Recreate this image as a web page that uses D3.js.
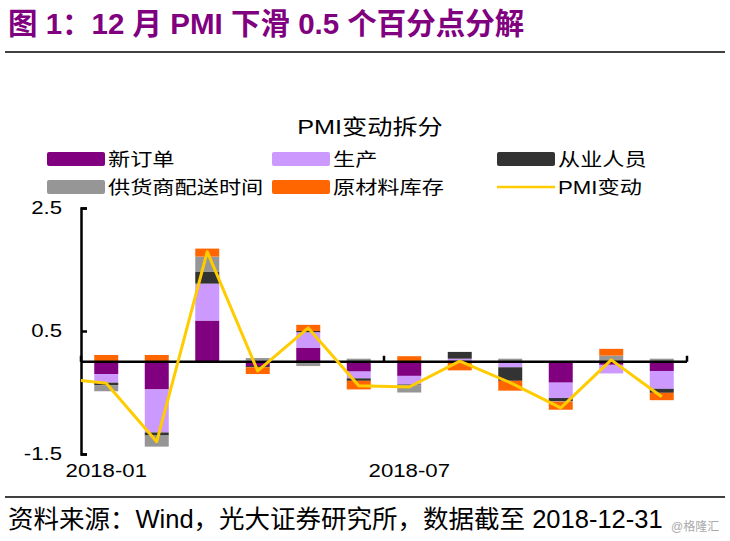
<!DOCTYPE html>
<html>
<head>
<meta charset="utf-8">
<script src="https://cdn.jsdelivr.net/npm/d3@7"></script>
<style>
  html, body { margin: 0; padding: 0; background: #fff; }
  svg { display: block; }
</style>
</head>
<body>
<svg id="chart" width="730" height="541"></svg>
<script>
// ---------------- data ----------------
const categories = ["2018-01","2018-02","2018-03","2018-04","2018-05","2018-06",
                    "2018-07","2018-08","2018-09","2018-10","2018-11","2018-12"];
const seriesNames = ["新订单","生产","从业人员","供货商配送时间","原材料库存"];
const newOrders  = [-0.20, -0.45, 0.67, -0.07, 0.23, -0.16, -0.23, 0.01, 0.00, -0.34, -0.05, -0.15];
const production = [-0.14, -0.70, 0.60,  0.02, 0.25, -0.11, -0.14, 0.04, -0.09, -0.25, -0.14, -0.29];
const employment = [-0.04, -0.05, 0.19, -0.02, 0.02, -0.04, -0.01, 0.11, -0.22, -0.05, 0.02, -0.065];
const delivery   = [-0.10, -0.18, 0.25,  0.04, -0.07, 0.05, -0.12, 0.00, 0.05, -0.01, 0.08, 0.05];
const inventory  = [ 0.11,  0.11, 0.13, -0.11, 0.10, -0.14, 0.09, -0.14, -0.16, -0.13, 0.11, -0.12];
const lineName = "PMI变动";
const pmiPrevMonth = -0.26;   // 2017-12 value (only its segment toward Jan is visible)
const pmiChange  = [-0.35, -1.30, 1.79, -0.15, 0.55, -0.39, -0.41, 0.01, -0.34, -0.75, 0.03, -0.57];
const yTicks = [2.5, 0.5, -1.5];
const xTickLabels = ["2018-01", "2018-07"];

const colors = ["#800080", "#CC99FF", "#333333", "#969696", "#FF6600"];
const lineColor = "#FFCC00";

// ---------------- setup ----------------
const svg = d3.select("#chart");
const FONT = "'Liberation Sans', Arial, 'Noto Sans CJK SC', sans-serif";
const SX = 1.2; // horizontal stretch of chart text

const plotLeft = 81, plotRight = 687, plotTop = 208, plotBottom = 454;

const x = d3.scaleBand().domain(categories).range([plotLeft, plotRight])
  .paddingInner(0.525).paddingOuter(0.2625);
const y = d3.scaleLinear().domain([-1.5, 2.5]).range([plotBottom, plotTop]);

const table = categories.map((c, i) => ({
  cat: c,
  [seriesNames[0]]: newOrders[i],
  [seriesNames[1]]: production[i],
  [seriesNames[2]]: employment[i],
  [seriesNames[3]]: delivery[i],
  [seriesNames[4]]: inventory[i]
}));
const stacked = d3.stack().keys(seriesNames).offset(d3.stackOffsetDiverging)(table);

// ---------------- page title & rules ----------------
svg.append("text")
  .attr("x", 8).attr("y", 34)
  .attr("font-family", FONT)
  .attr("font-weight", "bold").attr("font-size", 29.5).attr("fill", "#800080")
  .text("图 1：12 月 PMI 下滑 0.5 个百分点分解");

svg.append("line").attr("x1", 5).attr("x2", 725).attr("y1", 52).attr("y2", 52)
  .attr("stroke", "#000").attr("stroke-width", 1.5);
svg.append("line").attr("x1", 5).attr("x2", 725).attr("y1", 497).attr("y2", 497)
  .attr("stroke", "#000").attr("stroke-width", 1.5);

svg.append("text")
  .attr("x", 8).attr("y", 528)
  .attr("font-family", FONT).attr("font-size", 25.5).attr("fill", "#000")
  .text("资料来源：Wind，光大证券研究所，数据截至 2018-12-31");
svg.append("text")
  .attr("x", 671).attr("y", 531)
  .attr("font-family", FONT).attr("font-size", 12).attr("fill", "#aaaaaa")
  .text("@格隆汇");

// helper for horizontally stretched text
function sText(parent, tx, ty, str, size, anchor) {
  return parent.append("text")
    .attr("transform", `translate(${tx},${ty}) scale(${SX},1)`)
    .attr("font-family", FONT).attr("font-size", size)
    .attr("text-anchor", anchor || "start").attr("fill", "#000")
    .text(str);
}

// ---------------- chart title & legend ----------------
sText(svg, 370, 134, "PMI变动拆分", 21, "middle");

const legendItems = seriesNames.map((n, i) => ({ name: n, color: colors[i], type: "rect" }));
legendItems.push({ name: lineName, color: lineColor, type: "line" });
const colX = [47, 272, 497];
const rowY = [159, 187];
legendItems.forEach((it, i) => {
  const cx = colX[i % 3], cy = rowY[Math.floor(i / 3)];
  if (it.type === "rect") {
    svg.append("rect").attr("x", cx).attr("y", cy - 7).attr("width", 58).attr("height", 14)
      .attr("rx", 2).attr("fill", it.color);
  } else {
    svg.append("line").attr("x1", cx).attr("x2", cx + 58).attr("y1", cy).attr("y2", cy)
      .attr("stroke", it.color).attr("stroke-width", 2.5);
  }
  sText(svg, cx + 61, cy + 6.5, it.name, 18.5);
});

// ---------------- bars ----------------
const gBars = svg.append("g");
stacked.forEach((s, si) => {
  gBars.selectAll(null).data(s).join("rect")
    .attr("x", d => x(d.data.cat))
    .attr("width", x.bandwidth())
    .attr("y", d => y(d[1]))
    .attr("height", d => Math.max(0, y(d[0]) - y(d[1])))
    .attr("fill", colors[si]);
});

// ---------------- axes ----------------
const yAxis = svg.append("g").attr("transform", `translate(${plotLeft},0)`)
  .call(d3.axisLeft(y).tickValues(yTicks).tickSizeInner(-6).tickSizeOuter(-6)
    .tickPadding(19).tickFormat(d => d.toFixed(1)));
yAxis.selectAll("path, line").attr("stroke", "#000").attr("stroke-width", 2.5);
yAxis.selectAll("text")
  .attr("x", -19 / SX).attr("transform", `scale(${SX},1)`)
  .attr("font-family", FONT).attr("font-size", 18.5).attr("fill", "#000");

// zero line with category ticks every 6 months
const y0 = y(0);
svg.append("line").attr("x1", plotLeft).attr("x2", plotRight).attr("y1", y0).attr("y2", y0)
  .attr("stroke", "#000").attr("stroke-width", 2.5);
const step = x.step();
[0, 6, 12].forEach(k => {
  const tx = plotLeft + k * step;
  svg.append("line").attr("x1", tx).attr("x2", tx).attr("y1", y0).attr("y2", y0 - 6)
    .attr("stroke", "#000").attr("stroke-width", 2.5);
});

const xAxis = svg.append("g").attr("transform", `translate(0,${plotBottom})`)
  .call(d3.axisBottom(x).tickValues(xTickLabels).tickSize(0).tickPadding(10));
xAxis.select(".domain").remove();
xAxis.selectAll("text")
  .attr("transform", `scale(${SX},1)`)
  .attr("font-family", FONT).attr("font-size", 18.5).attr("fill", "#000");

// ---------------- line ----------------
svg.append("clipPath").attr("id", "plotClip").append("rect")
  .attr("x", plotLeft).attr("y", 0).attr("width", plotRight - plotLeft + 20).attr("height", 541);

const cx = i => x(categories[0]) + x.bandwidth() / 2 + i * step;
const linePts = [[-1, pmiPrevMonth]].concat(pmiChange.map((v, i) => [i, v]));
svg.append("path")
  .attr("clip-path", "url(#plotClip)")
  .attr("d", d3.line().x(d => cx(d[0])).y(d => y(d[1]))(linePts))
  .attr("fill", "none").attr("stroke", lineColor).attr("stroke-width", 3)
  .attr("stroke-linejoin", "round");
</script>
</body>
</html>
